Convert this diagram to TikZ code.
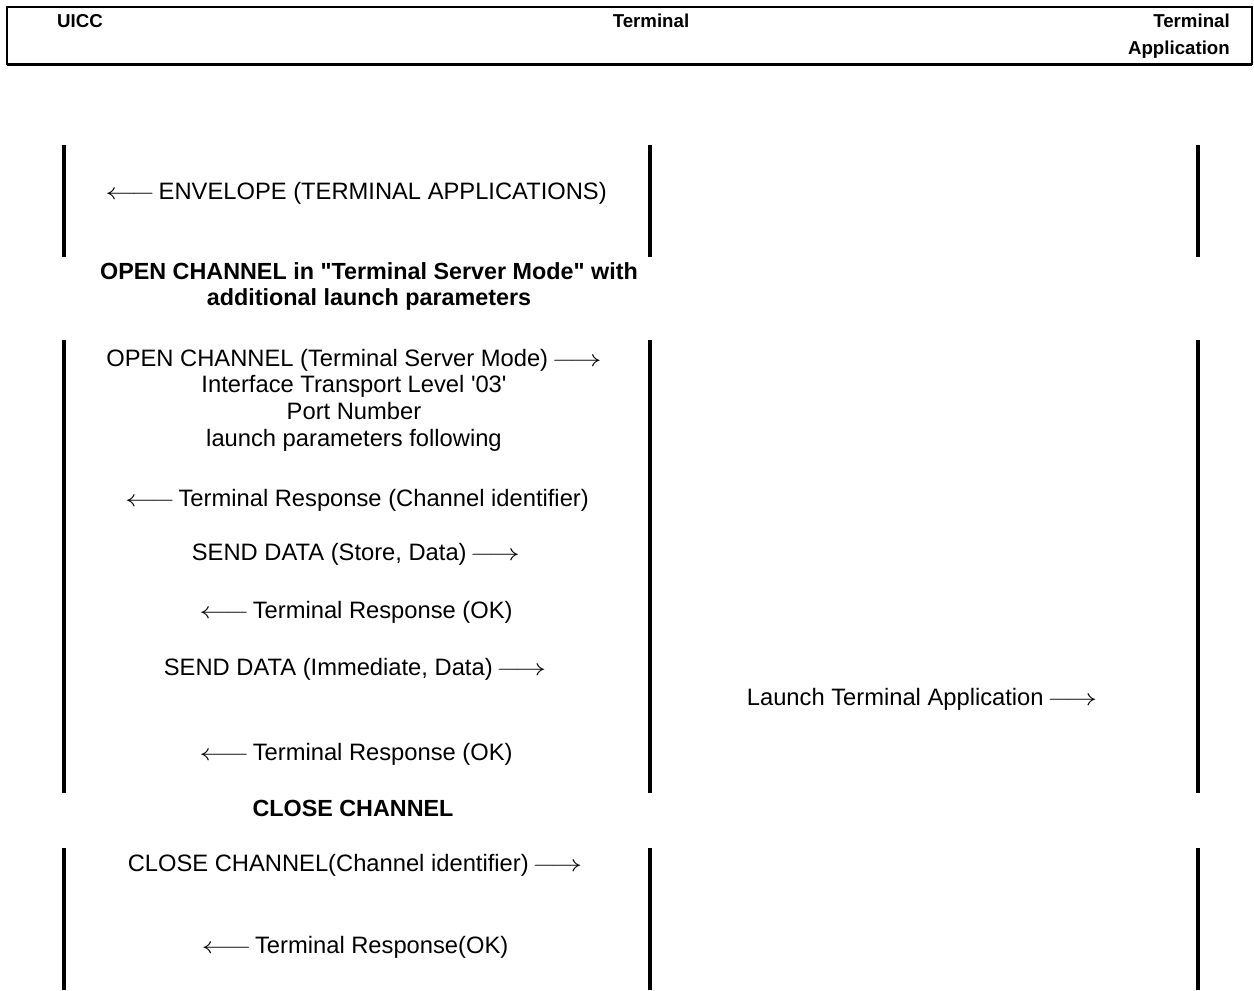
\documentclass[tikz,border=0pt]{standalone}
\usepackage{graphicx}
\usepackage{fontspec}
\setmainfont{Liberation Sans}
\usetikzlibrary{positioning}
\newcommand{\toleft}{\scalebox{1.35}[1]{$\longleftarrow$}\hspace{2.5pt}}
\newcommand{\toright}{\hspace{2.5pt}\scalebox{1.35}[1]{$\longrightarrow$}}
\tikzset{
    lifeline/.style={line width=3pt, draw=black},
    headframe/.style={draw=black, line width=1.5pt},
    actor/.style={font=\fontsize{14}{20.25}\selectfont\bfseries, inner sep=0pt},
    msg/.style={font=\fontsize{17.8}{20}\selectfont, inner sep=0pt, anchor=base},
    msgblock/.style={font=\fontsize{17.8}{20}\selectfont, inner sep=0pt, anchor=north, align=center},
    phase/.style={font=\fontsize{17.5}{19.5}\selectfont\bfseries, inner sep=0pt, anchor=north, align=center}
}
\begin{document}
\begin{tikzpicture}[x=0.75pt, y=-0.75pt]
    \useasboundingbox (0,0) rectangle (1254,990);
    \draw[headframe] (7,7) rectangle (1252,64);
    \draw[line width=2.25pt] (7,64) -- (1252,64);
    \node[actor, anchor=base] (uicc) at (80,27) {UICC};
    \node[actor, anchor=base] (term) at (651,27) {Terminal};
    \node[actor, anchor=north east, align=right] (tapp) at (1230,13.3) {Terminal\\Application};
    \foreach \x/\n in {64/uicc, 650/term, 1198/tapp}
        \foreach \ya/\yb [count=\i] in {145/257, 340/793, 848/990} {
            \coordinate (\n-\i-top) at (\x,\ya);
            \coordinate (\n-\i-bot) at (\x,\yb);
            \draw[lifeline] (\n-\i-top) -- (\n-\i-bot);
        }
    \node[msg] (envelope) at (356,199) {\toleft ENVELOPE (TERMINAL APPLICATIONS)};
    \node[phase] (openphase) at (369,262.7) {OPEN CHANNEL in \textquotedbl Terminal Server Mode\textquotedbl{} with\\additional launch parameters};
    \node[msgblock] (opench) at (354,348.7) {OPEN CHANNEL (Terminal Server Mode)\toright\\Interface Transport Level \textquotesingle 03\textquotesingle\\Port Number\\launch parameters following};
    \node[msg] (resp1) at (357,506) {\toleft Terminal Response (Channel identifier)};
    \node[msg] (send1) at (356,560) {SEND DATA (Store, Data)\toright};
    \node[msg] (resp2) at (356,618) {\toleft Terminal Response (OK)};
    \node[msg] (send2) at (355,675) {SEND DATA (Immediate, Data)\toright};
    \node[msg] (launch) at (922,705) {Launch Terminal Application\toright};
    \node[msg] (resp3) at (356,760) {\toleft Terminal Response (OK)};
    \node[phase, anchor=base] (closephase) at (353,816) {CLOSE CHANNEL};
    \node[msg] (closech) at (355,871) {CLOSE CHANNEL(Channel identifier)\toright};
    \node[msg] (resp4) at (355,953) {\toleft Terminal Response(OK)};
\end{tikzpicture}
\end{document}
